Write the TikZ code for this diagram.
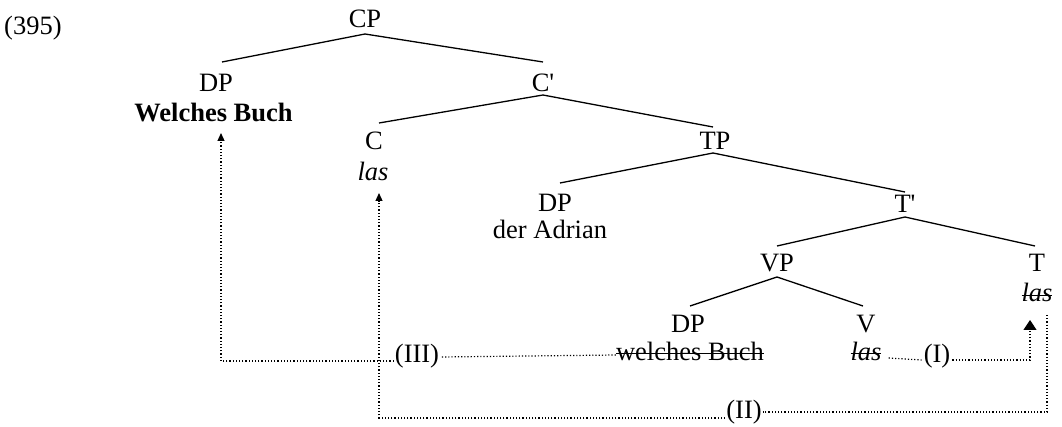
\documentclass[tikz,border=0pt]{standalone}
\usepackage{fontspec}
\setmainfont{Liberation Serif}
\usetikzlibrary{arrows.meta}
\newsavebox\stkbox
\newcommand\stk[1]{\sbox\stkbox{#1}\rlap{\raisebox{0.22em}{\rule{\wd\stkbox}{1.3pt}}}\usebox\stkbox}
\begin{document}
\begin{tikzpicture}[x=1pt,y=-1pt,
  font=\fontsize{26.5}{30}\selectfont,
  lab/.style={inner sep=0pt, anchor=base},
  br/.style={line width=1.3pt},
  dot/.style={line width=1.2pt, dash pattern=on 1.2pt off 2pt},
  sarr/.style={-{Triangle[length=8pt,width=7pt]}},
  barr/.style={-{Triangle[length=10pt,width=13pt]}}]
\useasboundingbox (0,0) rectangle (1062,427);
% example number
\node[inner sep=0pt, anchor=base west] (num) at (4,35) {(395)};
% tree labels
\node[lab] (cp) at (365,28) {CP};
\node[lab] (dp1) at (216,92) {DP};
\node[lab] (cbar) at (543,92) {C\textquotesingle};
\node[lab] (wb) at (213.5,122) {\bfseries Welches Buch};
\node[lab] (c) at (374,150) {C};
\node[lab] (clas) at (373,181) {\itshape las};
\node[lab] (tp) at (715,150) {TP};
\node[lab] (dp2) at (555,212) {DP};
\node[lab] (adrian) at (550,239) {der Adrian};
\node[lab] (tbar) at (905,213) {T\textquotesingle};
\node[lab] (vp) at (777,272) {VP};
\node[lab] (t) at (1037,272) {T};
\node[lab] (tlas) at (1037,302) {\stk{\itshape las}};
\node[lab] (dp3) at (688,333) {DP};
\node[lab] (wb2) at (690,360) {\stk{welches Buch}};
\node[lab] (v) at (866,333) {V};
\node[lab] (vlas) at (866,360) {\stk{\itshape las}};
% movement labels
\node[lab] (III) at (417,362) {(III)};
\node[lab] (I) at (937,362) {(I)};
\node[lab] (II) at (744,418) {(II)};
% branches
\draw[br] ([xshift=6pt,yshift=30pt]dp1.base) -- ([yshift=-6pt]cp.base) -- ([yshift=30pt]cbar.base);
\draw[br] ([xshift=5pt,yshift=27pt]c.base) -- ([yshift=-3pt]cbar.base) -- ([xshift=-2pt,yshift=23pt]tp.base);
\draw[br] ([xshift=5pt,yshift=29pt]dp2.base) -- ([xshift=-2pt,yshift=-3pt]tp.base) -- ([yshift=21pt]tbar.base);
\draw[br] ([yshift=26pt]vp.base) -- ([yshift=-4pt]tbar.base) -- ([xshift=-2pt,yshift=26pt]t.base);
\draw[br] ([xshift=2pt,yshift=27pt]dp3.base) -- ([yshift=-5pt]vp.base) -- ([xshift=-3pt,yshift=27pt]v.base);
% movement (I)
\draw[dot] ([xshift=7pt,yshift=2pt]vlas.base east) -- ([xshift=-2pt,yshift=2pt]I.base west);
\draw[dot,barr] ([xshift=2pt,yshift=2pt]I.base east) -| ([xshift=-7pt,yshift=-18pt]tlas.base);
% movement (II)
\draw[dot] ([xshift=10pt,yshift=-13pt]tlas.base) |- ([xshift=1pt,yshift=6pt]II.base east);
\draw[dot,sarr] ([xshift=-1pt,yshift=0pt]II.base west) -| ([xshift=6pt,yshift=-12pt]clas.base);
% movement (III)
\draw[dot] ([yshift=5pt]wb2.base west) -- ([xshift=1pt,yshift=5pt]III.base east);
\draw[dot,sarr] ([xshift=-1pt,yshift=1pt]III.base west) -| ([xshift=7.5pt,yshift=-11pt]wb.base);
\end{tikzpicture}
\end{document}
